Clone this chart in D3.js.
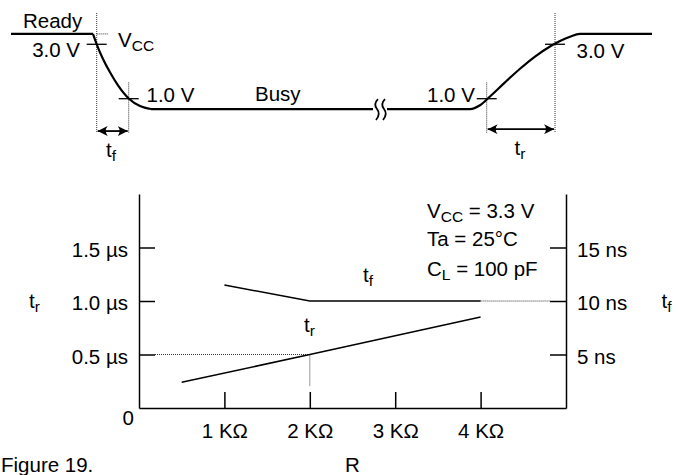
<!DOCTYPE html>
<html>
<head>
<meta charset="utf-8">
<script src="https://d3js.org/d3.v7.min.js"></script>
<style>
    body { margin: 0; background: #fff; }
    svg text { font-family: "Liberation Sans", Arial, sans-serif; font-size: 20.5px; fill: #000; }
    .dot { stroke: #333; stroke-width: 1; stroke-dasharray: 1,1; fill: none; }
    .wave { stroke: #000; stroke-width: 2.2; fill: none; }
    .curve { stroke: #000; stroke-width: 1.5; fill: none; }
</style>
</head>
<body>
<div id="chart"></div>
<script>
    "use strict";

    // lower chart: R (KΩ) against tr (µs, left) and tf (ns, right)
    var resistanceTicks = [1, 2, 3, 4];
    var riseTicks = [0.5, 1.0, 1.5];
    var fallTicks = [5, 10, 15];
    var fallR = [1, 2, 4];
    var fallNs = [11.5, 10, 10];
    var riseR = [0.5, 2, 4];
    var riseUs = [0.24, 0.5, 0.85];
    var conditions = ['Ta = 25°C'];

    // upper waveform (time in arbitrary units, level in volts)
    var readyT = [0, 8.2];
    var readyV = [3.38, 3.38];
    var fallT = [8.2, 8.57, 9.2, 9.9, 10.7, 11.77, 12.9, 14.0];
    var fallV = [3.38, 3.0, 2.46, 1.97, 1.49, 1.01, 0.73, 0.62];
    var busyT = [14.0, 36.2];
    var busyV = [0.62, 0.62];
    var breakT = [36.6, 37.3];
    var riseT = [37.6, 45.9, 46.9, 47.9, 49.4, 50.9, 52.4, 53.9, 54.9, 55.9, 56.9, 64.1];
    var riseV = [0.62, 0.62, 0.76, 1.08, 1.6, 2.1, 2.55, 2.92, 3.12, 3.28, 3.38, 3.38];
    var markT = [8.57, 11.77, 47.57, 54.4];
    var markV = [3.0, 1.0, 1.0, 3.0];

    var svg = d3.select('#chart').append('svg')
        .attr('width', 679)
        .attr('height', 475);

    function zip(a, b) { return a.map(function (v, i) { return [v, b[i]]; }); }

    // text with a subscript part
    function subText(g, px, py, main, sub, rest, anchor) {
        var t = g.append('text').attr('x', px).attr('y', py)
            .attr('text-anchor', anchor || 'start');
        t.append('tspan').text(main);
        t.append('tspan').attr('dy', 4).style('font-size', '15.5px').text(sub);
        if (rest) { t.append('tspan').attr('dy', -4).text(rest); }
        return t;
    }

    /************* waveform *************/
    var wx = d3.scaleLinear().domain([0, 64.1]).range([11, 652]);
    var wy = d3.scaleLinear().domain([0, 3.4]).range([125.9, 33.4]);

    var lineW = d3.line().x(function (d) { return wx(d[0]); }).y(function (d) { return wy(d[1]); });
    var smoothW = d3.line().x(function (d) { return wx(d[0]); }).y(function (d) { return wy(d[1]); })
        .curve(d3.curveMonotoneX);

    var wave = svg.append('g');

    // dotted guides
    [[markT[0], 4.15], [markT[1], 1.6], [markT[2], 1.6], [markT[3], 4.15]].forEach(function (m) {
        wave.append('line').attr('class', 'dot')
            .attr('x1', wx(m[0])).attr('x2', wx(m[0]))
            .attr('y1', wy(m[1])).attr('y2', wy(-0.26));
    });
    wave.append('line').attr('class', 'dot')
        .attr('x1', wx(markT[0])).attr('x2', wx(markT[0]) + 12)
        .attr('y1', wy(readyV[0])).attr('y2', wy(readyV[0]));

    wave.append('path').attr('class', 'wave').attr('d', lineW(zip(readyT, readyV)));
    wave.append('path').attr('class', 'wave').attr('d', smoothW(zip(fallT, fallV)));
    wave.append('path').attr('class', 'wave').attr('d', lineW(zip(busyT, busyV)));
    wave.append('path').attr('class', 'wave').attr('d', smoothW(zip(riseT, riseV)));

    // break symbol
    breakT.forEach(function (t) {
        wave.append('path')
            .attr('transform', 'translate(' + wx(t) + ',' + wy(busyV[0]) + ')')
            .attr('d', 'M1,-10 Q-4,-5 0,0 Q4,5 -1,11')
            .attr('stroke', '#000').attr('stroke-width', 1.8).attr('fill', 'none');
    });

    // level marks
    markT.forEach(function (t, i) {
        wave.append('line')
            .attr('x1', wx(t) - 10).attr('x2', wx(t) + 10)
            .attr('y1', wy(markV[i])).attr('y2', wy(markV[i]))
            .attr('stroke', '#000').attr('stroke-width', 1.3);
    });

    // arrows
    svg.append('defs').append('marker')
        .attr('id', 'head')
        .attr('markerUnits', 'userSpaceOnUse')
        .attr('markerWidth', 12).attr('markerHeight', 12)
        .attr('refX', 10).attr('refY', 5)
        .attr('orient', 'auto-start-reverse')
        .append('path')
        .attr('d', 'M0,0 L10,5 L0,10 Q4,5 0,0 Z')
        .attr('fill', '#000');

    [[markT[0], markT[1], -0.19], [markT[2], markT[3], -0.12]].forEach(function (a) {
        wave.append('line')
            .attr('x1', wx(a[0]) + 1).attr('x2', wx(a[1]) - 1)
            .attr('y1', wy(a[2])).attr('y2', wy(a[2]))
            .attr('stroke', '#000').attr('stroke-width', 1.8)
            .attr('marker-start', 'url(#head)').attr('marker-end', 'url(#head)');
    });

    wave.append('text').attr('x', 23).attr('y', 28).text('Ready');
    wave.append('text').attr('x', 80).attr('y', 57).attr('text-anchor', 'end').text('3.0 V');
    subText(wave, 118, 46.5, 'V', 'CC');
    wave.append('text').attr('x', 146.5).attr('y', 101.5).text('1.0 V');
    wave.append('text').attr('x', 255).attr('y', 100.5).text('Busy');
    wave.append('text').attr('x', 427).attr('y', 101.5).text('1.0 V');
    wave.append('text').attr('x', 576.5).attr('y', 58).text('3.0 V');
    subText(wave, 111, 156.5, 't', 'f', null, 'middle');
    subText(wave, 520, 155, 't', 'r', null, 'middle');

    /************* lower chart *************/
    var x = d3.scaleLinear().domain([0, 5]).range([139, 566]);
    var yUs = d3.scaleLinear().domain([0, 2]).range([408, 194]);
    var yNs = d3.scaleLinear().domain([0, 20]).range([408, 194]);

    function styleAxis(g) {
        g.attr('font-size', null).attr('font-family', null);
        g.selectAll('path, line').attr('stroke', '#000').attr('stroke-width', 1.5);
    }

    var axisL = svg.append('g')
        .attr('transform', 'translate(' + x(0) + ',0)')
        .call(d3.axisLeft(yUs).tickValues(riseTicks)
            .tickSizeInner(-16).tickSizeOuter(0).tickPadding(11)
            .tickFormat(function (d) { return d3.format('.1f')(d) + ' µs'; }))
        .call(styleAxis);
    axisL.selectAll('text').attr('dy', '0.42em');

    var axisR = svg.append('g')
        .attr('transform', 'translate(' + x(5) + ',0)')
        .call(d3.axisRight(yNs).tickValues(fallTicks)
            .tickSizeInner(-16).tickSizeOuter(0).tickPadding(11)
            .tickFormat(function (d) { return d + ' ns'; }))
        .call(styleAxis);
    axisR.selectAll('text').attr('dy', '0.42em');

    svg.append('g')
        .attr('transform', 'translate(0,' + yUs(0) + ')')
        .call(d3.axisBottom(x).tickValues(resistanceTicks)
            .tickSizeInner(-16).tickSizeOuter(0).tickPadding(15)
            .tickFormat(function (d) { return d + ' KΩ'; }))
        .call(styleAxis);

    svg.append('text').attr('x', x(0) - 5).attr('y', yUs(0) + 17)
        .attr('text-anchor', 'end').text('0');

    // dotted reference lines
    svg.append('line').attr('class', 'dot')
        .attr('x1', x(0) + 16).attr('x2', x(2))
        .attr('y1', yUs(0.5)).attr('y2', yUs(0.5));
    svg.append('line').attr('class', 'dot')
        .attr('x1', x(2)).attr('x2', x(2))
        .attr('y1', yUs(0.5)).attr('y2', yUs(0.2));
    svg.append('line').attr('class', 'dot')
        .attr('x1', x(4)).attr('x2', x(5) - 16)
        .attr('y1', yNs(10)).attr('y2', yNs(10));

    // curves
    svg.append('path').attr('class', 'curve')
        .attr('d', d3.line()
            .x(function (d) { return x(d[0]); })
            .y(function (d) { return yNs(d[1]); })(zip(fallR, fallNs)));
    svg.append('path').attr('class', 'curve')
        .attr('d', d3.line()
            .x(function (d) { return x(d[0]); })
            .y(function (d) { return yUs(d[1]); })(zip(riseR, riseUs)));

    subText(svg, 363, 282, 't', 'f');
    subText(svg, 304, 332, 't', 'r');

    // conditions
    subText(svg, 427, 218, 'V', 'CC', ' = 3.3 V');
    svg.append('text').attr('x', 427).attr('y', 246).text(conditions[0]);
    subText(svg, 427, 276, 'C', 'L', ' = 100 pF');

    // axis titles
    subText(svg, 29, 308, 't', 'r');
    subText(svg, 661.5, 308, 't', 'f');
    svg.append('text').attr('x', (x(0) + x(5)) / 2).attr('y', 471.5)
        .attr('text-anchor', 'middle').text('R');
    svg.append('text').attr('x', 1).attr('y', 471.5).text('Figure 19.');
</script>
</body>
</html>
